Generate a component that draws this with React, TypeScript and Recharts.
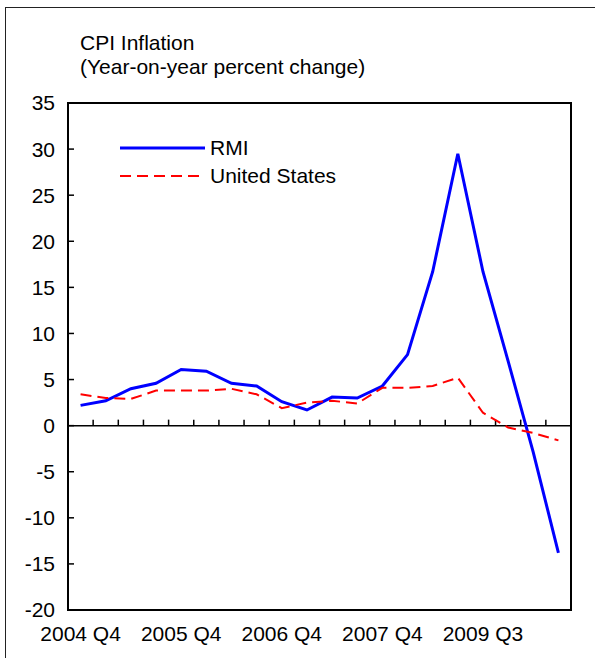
import { LineChart, Line, XAxis, YAxis, ReferenceLine, ReferenceArea, Legend } from 'recharts';

const QUARTERS = [
  '2004 Q4', '2005 Q1', '2005 Q2', '2005 Q3', '2005 Q4', '2006 Q1', '2006 Q2',
  '2006 Q3', '2006 Q4', '2007 Q1', '2007 Q2', '2007 Q3', '2007 Q4', '2008 Q1',
  '2008 Q2', '2008 Q3', '2008 Q4', '2009 Q1', '2009 Q2', '2009 Q3',
];

const RMI = [2.2, 2.7, 4.0, 4.6, 6.1, 5.9, 4.6, 4.3, 2.6, 1.7, 3.1, 3.0, 4.3, 7.7, 16.7, 29.5, 16.7, 7.0, -2.9, -13.8];
const US = [3.4, 3.0, 2.9, 3.8, 3.8, 3.8, 4.0, 3.4, 1.9, 2.5, 2.7, 2.4, 4.1, 4.1, 4.3, 5.2, 1.4, -0.2, -0.8, -1.6];

// labels as printed under the chart, and the quarter each one sits under
const TICK_LABELS = ['2004 Q4', '2005 Q4', '2006 Q4', '2007 Q4', '2009 Q3'];
const TICK_INDEX = [0, 4, 8, 12, 16];

const Y_TICKS = [-20, -15, -10, -5, 0, 5, 10, 15, 20, 25, 30, 35];

const FONT = '"Liberation Sans", Arial, sans-serif';

const SERIES = [
  { key: 'rmi', name: 'RMI', color: '#0000ff', width: 3, dash: undefined },
  { key: 'us', name: 'United States', color: '#ff0000', width: 2, dash: '11 6' },
];

const data = QUARTERS.map((q, i) => ({ quarter: q, pos: i + 0.5, rmi: RMI[i], us: US[i] }));
const boundaries = QUARTERS.slice(1).map((_, i) => i + 1);

function LegendBox() {
  return (
    <div style={{ fontFamily: FONT, fontSize: 21, color: '#000' }}>
      {SERIES.map((s) => (
        <div key={s.key} style={{ display: 'flex', alignItems: 'center', height: 28 }}>
          <svg width={85} height={10}>
            <line x1={0} y1={5} x2={85} y2={5} stroke={s.color} strokeWidth={s.width} strokeDasharray={s.dash} />
          </svg>
          <span style={{ marginLeft: 5 }}>{s.name}</span>
        </div>
      ))}
    </div>
  );
}

export default function App() {
  return (
    <div style={{ position: 'absolute', left: 0, top: 0, width: 595, height: 658, background: '#fff', overflow: 'hidden', fontFamily: FONT }}>
      <div style={{ position: 'absolute', left: 5, top: 7, width: 590, height: 651, borderLeft: '1.5px solid #222', borderTop: '1.5px solid #222', boxSizing: 'border-box' }} />
      <div style={{ position: 'absolute', left: 80, top: 31, fontSize: 21, lineHeight: '24px', color: '#000' }}>
        <div>CPI Inflation</div>
        <div>(Year-on-year percent change)</div>
      </div>
      <div style={{ position: 'absolute', left: 0, top: 0 }}>
        <LineChart width={595} height={658} data={data} margin={{ top: 103, right: 24, bottom: 8, left: 0 }}>
          <XAxis
            dataKey="pos"
            type="number"
            domain={[0, 20]}
            ticks={TICK_INDEX.map((i) => i + 0.5)}
            tickFormatter={(v: number) => TICK_LABELS[TICK_INDEX.indexOf(v - 0.5)] ?? ''}
            height={40}
            tickLine={false}
            tickSize={0}
            tickMargin={16}
            axisLine={{ stroke: '#000', strokeWidth: 2 }}
            tick={{ fill: '#000', fontSize: 21, fontFamily: FONT }}
            interval={0}
          />
          <YAxis
            domain={[-20, 35]}
            ticks={Y_TICKS}
            width={68}
            tickSize={-6}
            tickMargin={19}
            axisLine={{ stroke: '#000', strokeWidth: 2 }}
            tickLine={{ stroke: '#000', strokeWidth: 1.5 }}
            tick={{ fill: '#000', fontSize: 21, fontFamily: FONT }}
            interval={0}
          />
          <ReferenceArea x1={0} x2={20} y1={-20} y2={35} fill="none" stroke="#000" strokeWidth={2} />
          <ReferenceLine y={0} stroke="#000" strokeWidth={1.5} />
          {boundaries.map((b) => (
            <ReferenceLine key={b} segment={[{ x: b, y: 0 }, { x: b, y: 0.65 }]} stroke="#000" strokeWidth={1.5} />
          ))}
          <Legend
            content={<LegendBox />}
            layout="vertical"
            align="center"
            verticalAlign="middle"
            wrapperStyle={{ top: 134, left: 120, width: 'auto' }}
          />
          {SERIES.map((s) => (
            <Line
              key={s.key}
              dataKey={s.key}
              name={s.name}
              stroke={s.color}
              strokeWidth={s.width}
              strokeDasharray={s.dash}
              dot={false}
              isAnimationActive={false}
            />
          ))}
        </LineChart>
      </div>
    </div>
  );
}
